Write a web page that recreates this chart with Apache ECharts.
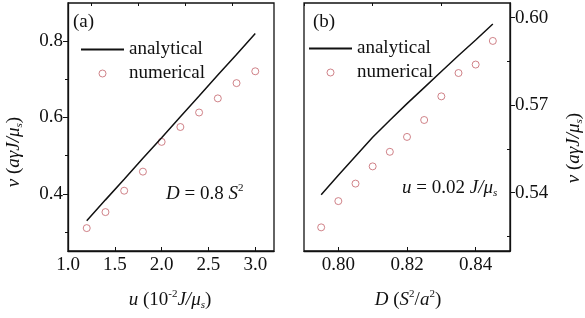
<!DOCTYPE html>
<html>
<head>
<meta charset="utf-8">
<script src="https://cdn.jsdelivr.net/npm/echarts@6/dist/echarts.min.js"></script>
<style>
    html, body { margin: 0; padding: 0; background: #fff; }
    #chart { width: 585px; height: 318px; }
</style>
</head>
<body>
<div id="chart"></div>
<script>
// (a) v against u, D = 0.8 S^2
const uValues = [1.2, 1.4, 1.6, 1.8, 2.0, 2.2, 2.4, 2.6, 2.8, 3.0];
const vNumericalA = [0.310, 0.352, 0.408, 0.458, 0.536, 0.575, 0.613, 0.650, 0.690, 0.721];
const vAnalyticalA = [0.329, 0.384, 0.438, 0.493, 0.547, 0.602, 0.656, 0.711, 0.765, 0.820];

// (b) v against D, u = 0.02 J/mu_s
const dValues = [0.795, 0.800, 0.805, 0.810, 0.815, 0.820, 0.825, 0.830, 0.835, 0.840, 0.845];
const vNumericalB = [0.5281, 0.5371, 0.5431, 0.5490, 0.5540, 0.5591, 0.5649, 0.5730, 0.5810, 0.5839, 0.5920];
const vAnalyticalB = [0.5393, 0.5460, 0.5525, 0.5590, 0.5648, 0.5705, 0.5760, 0.5815, 0.5870, 0.5923, 0.5978];

// tick values
const xTicksA = [1.0, 1.5, 2.0, 2.5, 3.0];
const xMinorA = [1.25, 1.75, 2.25, 2.75];
const yTicksA = [0.4, 0.6, 0.8];
const yMinorA = [0.3, 0.5, 0.7];
const xTicksB = [0.80, 0.82, 0.84];
const xMinorB = [0.79, 0.81, 0.83, 0.85];
const yTicksB = [0.54, 0.57, 0.60];
const yMinorB = [0.525, 0.555, 0.585];

const F = "'Liberation Serif', 'Times New Roman', serif";
const INK = '#111';
const RED = '#c4646c';

const rich = {
    i: { fontStyle: 'italic', fontSize: 19, fontFamily: F, lineHeight: 22, color: INK },
    n: { fontSize: 19, fontFamily: F, lineHeight: 22, color: INK },
    sup: { fontSize: 11, fontFamily: F, verticalAlign: 'top', color: INK },
    sub: { fontSize: 11, fontFamily: F, fontStyle: 'italic', verticalAlign: 'bottom', color: INK }
};

const chart = echarts.init(document.getElementById('chart'));

function pairs(xs, ys) {
    return xs.map((x, i) => [x, ys[i]]);
}

function mainX(grid, min, max, ticks, digits) {
    return {
        type: 'value', gridIndex: grid, min: min, max: max,
        axisLine: { show: true, onZero: false, lineStyle: { color: INK, width: 1.3 } },
        axisTick: { show: true, inside: true, length: 4, customValues: ticks, lineStyle: { color: INK, width: 1 } },
        axisLabel: { customValues: ticks, margin: 5, color: INK, fontFamily: F, fontSize: 19,
            formatter: v => v.toFixed(digits) },
        splitLine: { show: false }
    };
}

function minorX(grid, min, max, ticks) {
    return {
        type: 'value', gridIndex: grid, min: min, max: max,
        axisLine: { show: false },
        axisTick: { show: true, inside: true, length: 3, customValues: ticks, lineStyle: { color: INK, width: 1 } },
        axisLabel: { show: false },
        splitLine: { show: false }
    };
}

function mainY(grid, pos, min, max, ticks, digits) {
    return {
        type: 'value', gridIndex: grid, position: pos, min: min, max: max,
        axisLine: { show: true, onZero: false, lineStyle: { color: INK, width: 1.3 } },
        axisTick: { show: true, inside: false, length: 5, customValues: ticks, lineStyle: { color: INK, width: 1 } },
        axisLabel: { customValues: ticks, margin: 5, color: INK, fontFamily: F, fontSize: 19,
            formatter: v => v.toFixed(digits) },
        splitLine: { show: false }
    };
}

function minorY(grid, pos, min, max, ticks, inside) {
    return {
        type: 'value', gridIndex: grid, position: pos, min: min, max: max,
        axisLine: { show: false },
        axisTick: { show: true, inside: inside, length: 3, customValues: ticks, lineStyle: { color: INK, width: 1 } },
        axisLabel: { show: false },
        splitLine: { show: false }
    };
}

// open circles with a thin outline
const ringStyle = { color: 'rgba(255,255,255,0)', borderColor: RED, borderWidth: 1 };

function legendAt(left, top) {
    return {
        left: left, top: top, orient: 'vertical',
        // no dot on the line sample, thin ring for the circles
        data: [
            { name: 'analytical', itemStyle: { opacity: 0 } },
            { name: 'numerical', itemStyle: ringStyle }
        ],
        itemWidth: 43, itemHeight: 7, itemGap: 5,
        selectedMode: false,
        textStyle: { color: INK, fontFamily: F, fontSize: 19, lineHeight: 19 }
    };
}

function label(x, y, text, align, rot) {
    return {
        type: 'text', x: x, y: y, rotation: rot || 0,
        style: { text: text, rich: rich, fontFamily: F, fontSize: 19, fill: INK,
            textAlign: align, textVerticalAlign: 'middle' }
    };
}

const option = {
    animation: false,
    backgroundColor: '#fff',
    textStyle: { fontFamily: F },
    grid: [
        { left: 68, top: 3, width: 206, height: 248, show: true, borderColor: INK, borderWidth: 1.3, outerBoundsMode: 'none' },
        { left: 304, top: 3, width: 206, height: 248, show: true, borderColor: INK, borderWidth: 1.3, outerBoundsMode: 'none' }
    ],
    xAxis: [
        mainX(0, 1.0, 3.2, xTicksA, 1),
        mainX(1, 0.79, 0.85, xTicksB, 2),
        minorX(0, 1.0, 3.2, xMinorA),
        minorX(1, 0.79, 0.85, xMinorB)
    ],
    yAxis: [
        mainY(0, 'left', 0.25, 0.9, yTicksA, 1),
        mainY(1, 'right', 0.52, 0.605, yTicksB, 2),
        minorY(0, 'left', 0.25, 0.9, yMinorA, false),
        minorY(1, 'right', 0.52, 0.605, yMinorB, true)
    ],
    legend: [legendAt(75, 35), legendAt(303, 34)],
    series: [
        {
            name: 'analytical', type: 'line', xAxisIndex: 0, yAxisIndex: 0,
            data: pairs(uValues, vAnalyticalA), symbol: 'none',
            lineStyle: { color: INK, width: 1.5 }, itemStyle: { color: INK }
        },
        {
            name: 'numerical', type: 'scatter', xAxisIndex: 0, yAxisIndex: 0,
            data: pairs(uValues, vNumericalA), symbol: 'circle', symbolSize: 7,
            itemStyle: ringStyle
        },
        {
            name: 'analytical', type: 'line', xAxisIndex: 1, yAxisIndex: 1,
            data: pairs(dValues, vAnalyticalB), symbol: 'none',
            lineStyle: { color: INK, width: 1.5 }, itemStyle: { color: INK }
        },
        {
            name: 'numerical', type: 'scatter', xAxisIndex: 1, yAxisIndex: 1,
            data: pairs(dValues, vNumericalB), symbol: 'circle', symbolSize: 7,
            itemStyle: ringStyle
        }
    ],
    graphic: [
        label(73, 22, '{n|(a)}', 'left'),
        label(313, 22, '{n|(b)}', 'left'),
        label(166, 194, '{i|D} {n|= 0.8} {i|S}{sup|2}', 'left'),
        label(402, 188, '{i|u} {n|= 0.02} {i|J/μ}{sub|s}', 'left'),
        label(170, 300, '{i|u} {n|(10}{sup|-2}{i|J/μ}{sub|s}{n|)}', 'center'),
        label(408, 300, '{i|D} {n|(}{i|S}{sup|2}{n|/}{i|a}{sup|2}{n|)}', 'center'),
        label(14, 152, '{i|ν} {n|(}{i|aγJ/μ}{sub|s}{n|)}', 'center', Math.PI / 2),
        label(574, 148, '{i|ν} {n|(}{i|aγJ/μ}{sub|s}{n|)}', 'center', Math.PI / 2)
    ]
};

chart.setOption(option);
</script>
</body>
</html>
